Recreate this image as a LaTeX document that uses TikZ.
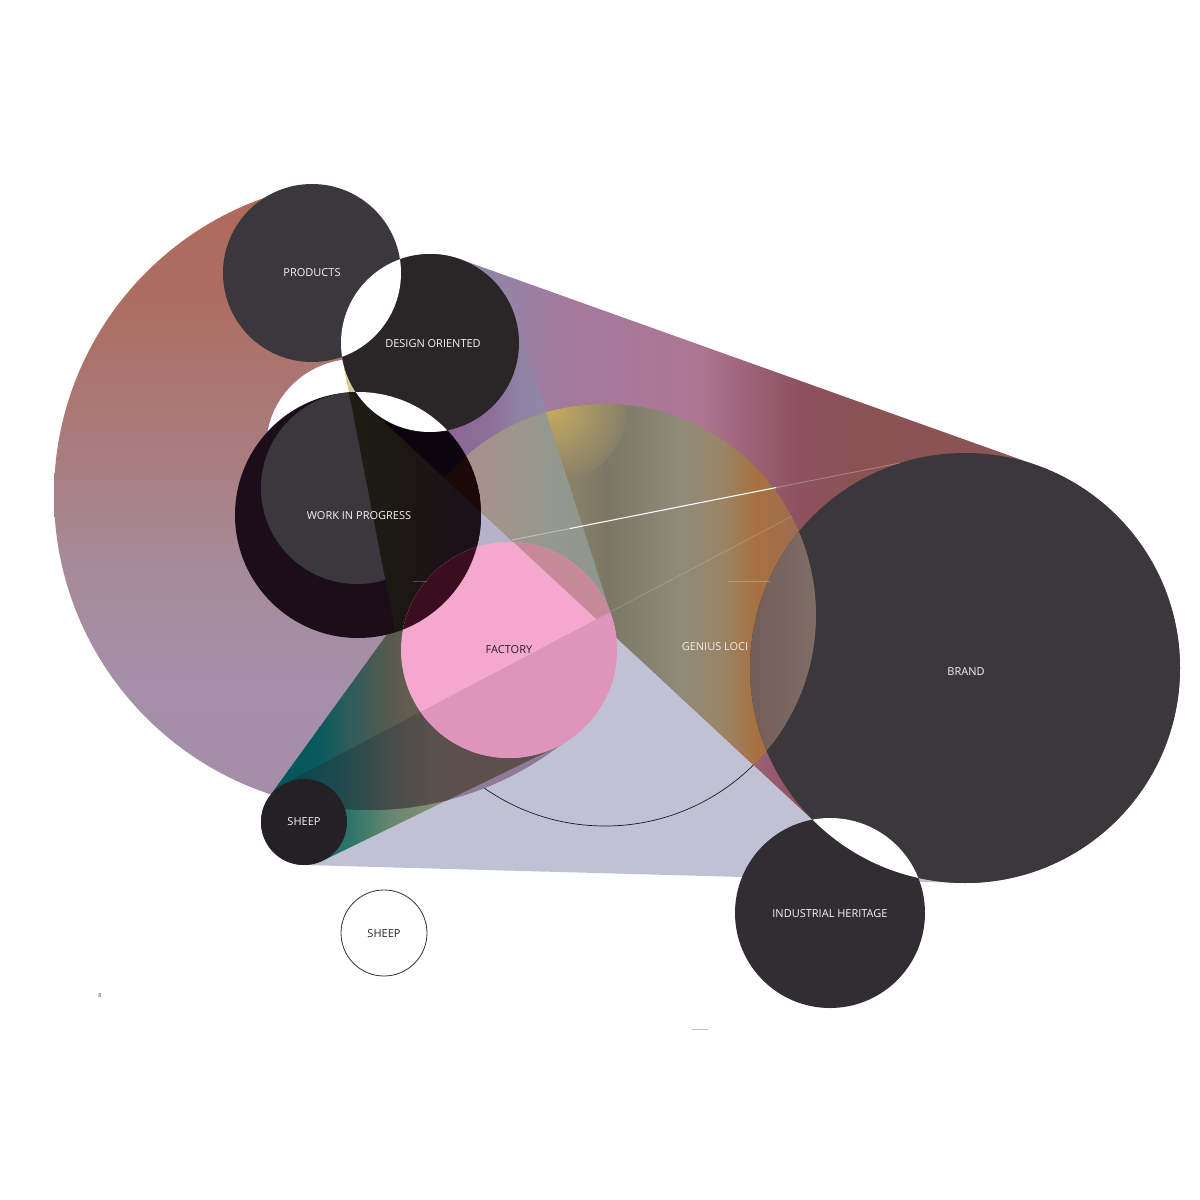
\documentclass[tikz,border=0pt]{standalone}
\usepackage{fontspec}
\setmainfont{Open Sans}
\usetikzlibrary{calc}
\definecolor{mvA}{HTML}{AE695B}
\definecolor{mvB}{HTML}{AD6E62}
\definecolor{mvC}{HTML}{A97C7E}
\definecolor{mvD}{HTML}{A78A98}
\definecolor{mvE}{HTML}{A58FA9}
\definecolor{mvF}{HTML}{A48DA8}
\definecolor{lav}{HTML}{C1C1D6}
\definecolor{pst}{HTML}{8E7B96}
\definecolor{glline}{HTML}{1E1A1C}
\definecolor{dfA}{HTML}{D3CB8E}
\definecolor{dfB}{HTML}{C4C0AA}
\definecolor{dfC}{HTML}{B6B2CA}
\definecolor{dfD}{HTML}{B2B2CC}
\definecolor{cA}{HTML}{0E6464}
\definecolor{cB}{HTML}{2E7468}
\definecolor{cC}{HTML}{668670}
\definecolor{cD}{HTML}{8C9270}
\definecolor{aA}{HTML}{00545A}
\definecolor{aB}{HTML}{0A5A5E}
\definecolor{aC}{HTML}{305C5A}
\definecolor{aD}{HTML}{585A4E}
\definecolor{aE}{HTML}{6C6050}
\definecolor{bA}{HTML}{00484E}
\definecolor{bB}{HTML}{204A4E}
\definecolor{bC}{HTML}{404C4A}
\definecolor{bD}{HTML}{5A504C}
\definecolor{bE}{HTML}{5E4E4C}
\definecolor{dbA}{HTML}{8C88AA}
\definecolor{dbB}{HTML}{A27A9E}
\definecolor{dbC}{HTML}{AE7593}
\definecolor{dbD}{HTML}{8E5260}
\definecolor{dbE}{HTML}{8A5254}
\definecolor{dbF}{HTML}{8C5B58}
\definecolor{dbfA}{HTML}{8B6794}
\definecolor{dbfB}{HTML}{8E6F9A}
\definecolor{dbfC}{HTML}{8F82A4}
\definecolor{dbfD}{HTML}{908AA8}
\definecolor{glA}{HTML}{948C6E}
\definecolor{glB}{HTML}{7C7664}
\definecolor{glC}{HTML}{8F8B79}
\definecolor{glD}{HTML}{9A8466}
\definecolor{glE}{HTML}{A8703F}
\definecolor{glF}{HTML}{A06E4E}
\definecolor{glG}{HTML}{8E725C}
\definecolor{glY}{HTML}{C6AA60}
\definecolor{glO}{HTML}{867F68}
\definecolor{gfA}{HTML}{A88E8C}
\definecolor{gfB}{HTML}{A2948A}
\definecolor{gfC}{HTML}{94988E}
\definecolor{gfD}{HTML}{8E968E}
\definecolor{wdc}{HTML}{1B0E1A}
\definecolor{wgc}{HTML}{3A383C}
\definecolor{wdfA}{HTML}{1E1D12}
\definecolor{wdfB}{HTML}{1C1714}
\definecolor{wdfC}{HTML}{1C1019}
\definecolor{wdb}{HTML}{0E0410}
\definecolor{wdbg}{HTML}{1A0906}
\definecolor{fac}{HTML}{F5A8CE}
\definecolor{fadb}{HTML}{C8889C}
\definecolor{fasb}{HTML}{DE94BB}
\definecolor{fawd}{HTML}{3A0E1E}
\definecolor{prc}{HTML}{3A383C}
\definecolor{dec}{HTML}{2A2628}
\definecolor{brc}{HTML}{3A383B}
\definecolor{ihc}{HTML}{302E32}
\definecolor{shc}{HTML}{242023}
\definecolor{lzA}{HTML}{735C5A}
\definecolor{lzB}{HTML}{7F6E66}
\definecolor{labw}{HTML}{F4F4F4}
\definecolor{labd}{HTML}{2A2024}
\definecolor{glabel}{HTML}{F0EAE4}
\pgfdeclareverticalshading{mauvesh}{100bp}{color(0bp)=(mvF); color(25bp)=(mvF); color(35.5bp)=(mvE); color(44.9bp)=(mvD); color(53.5bp)=(mvC); color(65.2bp)=(mvB); color(75bp)=(mvA); color(100bp)=(mvA)}
\newcommand\mkhull[7]{%
  \pgfmathsetmacro\hxDX{#5-#2}%
  \pgfmathsetmacro\hxDY{#6-#3}%
  \pgfmathsetmacro\hxD{100*veclen(\hxDX/100,\hxDY/100)}%
  \pgfmathsetmacro\hxPhi{atan2(\hxDY,\hxDX)}%
  \pgfmathsetmacro\hxAl{acos((#4-#7)/\hxD)}%
  \pgfmathsetmacro\hxA{\hxPhi+\hxAl}%
  \pgfmathsetmacro\hxB{\hxPhi-\hxAl}%
  \pgfmathsetmacro\hxC{\hxPhi+\hxAl-360}%
  \expandafter\xdef\csname #1\endcsname{($(#2,#3)+(\hxA:#4)$) -- ($(#5,#6)+(\hxA:#7)$) arc[start angle=\hxA,end angle=\hxB,radius=#7] -- ($(#2,#3)+(\hxB:#4)$) arc[start angle=\hxB,end angle=\hxC,radius=#4] -- cycle}%
}
\newcommand\hgr[6]{\shade[left color=#2,right color=#4] (#1-0.5,#5) rectangle (#3+0.5,#6);}
\def\cPR{(312,273) circle[radius=89]}
\def\cDE{(430,343) circle[radius=89]}
\def\cWD{(358,515) circle[radius=123]}
\def\cWG{(357,488) circle[radius=96]}
\def\cFA{(509,650) circle[radius=108]}
\def\cGL{(605,615) circle[radius=211]}
\def\cBR{(965,668) circle[radius=215]}
\def\cSH{(304,822) circle[radius=43]}
\def\cSS{(384,933) circle[radius=43]}
\def\cIH{(830,913) circle[radius=95]}
\def\cBIG{(369,495) circle[radius=315]}
\def\cX{(355,448) circle[radius=89]}
\begin{document}
\begin{tikzpicture}[x=1pt,y=-1pt,
  lbl/.style={font=\fontsize{11}{13}\selectfont,text=labw,inner sep=0pt},
  lbldark/.style={lbl,text=labd}]
\useasboundingbox (0,0) rectangle (1200,1200);
\fill[white] (0,0) rectangle (1200,1200);
\mkhull{hDB}{430}{343}{89}{965}{668}{215}
\mkhull{hDF}{430}{343}{89}{509}{650}{108}
\mkhull{hSB}{304}{822}{43}{965}{668}{215}
\mkhull{hSF}{304}{822}{43}{509}{650}{108}
% big mauve disk
\begin{scope}
\clip \cBIG;
\shade[shading=mauvesh] (40,175) rectangle (700,815);
\end{scope}
\fill[white] \cX;
\fill[white] (312,150) -- (900,150) -- (900,560) -- (470,560) -- (430,380) -- (345,352) -- (312,273) -- cycle;
% sheep-brand pipe
\fill[lav] \hSB;
\draw[glline,line width=0.7pt] \cGL;
\begin{scope}\clip \hSB; \clip (0,0) rectangle (572,1200); \fill[pst] \cBIG; \end{scope}
% design-factory pipe
\begin{scope}\clip \hDF;
\hgr{330}{dfA}{345}{dfA}{300}{690}
\hgr{345}{dfA}{400}{dfB}{300}{690}
\hgr{400}{dfB}{480}{dfC}{300}{690}
\hgr{480}{dfC}{625}{dfD}{300}{690}
\end{scope}
% sheep-factory pipe
\begin{scope}\clip \hSF; \clip \hSB;
\hgr{255}{cA}{300}{cA}{570}{880}
\hgr{300}{cA}{350}{cB}{570}{880}
\hgr{350}{cB}{390}{cC}{570}{880}
\hgr{390}{cC}{440}{cD}{570}{880}
\hgr{440}{cD}{570}{cD}{570}{880}
\end{scope}
\begin{scope}\clip \hSF; \clip \cBIG;
\hgr{255}{aA}{270}{aA}{570}{880}
\hgr{270}{aA}{320}{aB}{570}{880}
\hgr{320}{aB}{350}{aC}{570}{880}
\hgr{350}{aC}{390}{aD}{570}{880}
\hgr{390}{aD}{430}{aE}{570}{880}
\hgr{430}{aE}{570}{aE}{570}{880}
\end{scope}
\begin{scope}\clip \hSF; \clip \cBIG; \clip \hSB;
\hgr{255}{bA}{285}{bA}{570}{880}
\hgr{285}{bA}{340}{bB}{570}{880}
\hgr{340}{bB}{380}{bC}{570}{880}
\hgr{380}{bC}{430}{bD}{570}{880}
\hgr{430}{bD}{570}{bE}{570}{880}
\end{scope}
% design-brand pipe
\begin{scope}\clip \hDB;
\hgr{440}{dbA}{470}{dbA}{240}{900}
\hgr{470}{dbA}{560}{dbB}{240}{900}
\hgr{560}{dbB}{700}{dbC}{240}{900}
\hgr{700}{dbC}{795}{dbD}{240}{900}
\hgr{795}{dbD}{860}{dbE}{240}{900}
\hgr{860}{dbE}{1190}{dbF}{240}{900}
\end{scope}
\begin{scope}\clip \hDB; \clip \hDF;
\hgr{330}{dbfA}{450}{dbfA}{250}{690}
\hgr{450}{dbfA}{490}{dbfB}{250}{690}
\hgr{490}{dbfB}{520}{dbfC}{250}{690}
\hgr{520}{dbfC}{550}{dbfD}{250}{690}
\hgr{550}{dbfD}{625}{dbfD}{250}{690}
\end{scope}
% genius loci inside the design-brand pipe
\begin{scope}\clip \hDB; \clip \cGL;
\hgr{390}{glA}{545}{glA}{400}{830}
\hgr{545}{glA}{605}{glB}{400}{830}
\hgr{605}{glB}{680}{glC}{400}{830}
\hgr{680}{glC}{722}{glD}{400}{830}
\hgr{722}{glD}{757}{glE}{400}{830}
\hgr{757}{glE}{790}{glF}{400}{830}
\hgr{790}{glF}{820}{glG}{400}{830}
\shade[inner color=glY,outer color=glO] (552,408) circle[radius=75];
\end{scope}
\begin{scope}\clip \hDB; \clip \cGL; \clip \hDF;
\hgr{390}{gfA}{445}{gfA}{400}{830}
\hgr{445}{gfA}{500}{gfB}{400}{830}
\hgr{500}{gfB}{550}{gfC}{400}{830}
\hgr{550}{gfC}{620}{gfD}{400}{830}
\end{scope}
\begin{scope}\clip \cGL; \clip \hDB;
\draw[white,opacity=0.18,line width=0.8pt] (600,617.4) -- (800,511.9);
\end{scope}
% work in progress
\fill[wdc] \cWD;
\fill[wgc] \cWG;
\begin{scope}\clip \cWD; \clip \hDF;
\hgr{230}{wdfA}{350}{wdfA}{380}{650}
\hgr{350}{wdfA}{400}{wdfB}{380}{650}
\hgr{400}{wdfB}{465}{wdfC}{380}{650}
\hgr{465}{wdfC}{490}{wdfC}{380}{650}
\end{scope}
\begin{scope}\clip \cWD; \clip \hDB; \fill[wdb] \cWD; \end{scope}
\begin{scope}\clip \cWD; \clip \hDB; \clip \cGL; \fill[wdbg] \cWD; \end{scope}
% factory
\fill[fac] \cFA;
\begin{scope}\clip \cFA; \fill[fadb] \hDB; \end{scope}
\begin{scope}\clip \cFA; \fill[fasb] \hSB; \end{scope}
\begin{scope}\clip \cFA; \fill[fawd] \cWD; \end{scope}
% products and design oriented
\fill[prc] \cPR;
\fill[dec] \cDE;
\begin{scope}\clip \cPR; \fill[white] \cDE; \end{scope}
\begin{scope}\clip \cDE; \fill[white] \cWD; \end{scope}
% brand and industrial heritage
\fill[brc] \cBR;
\begin{scope}\clip \cBR; \clip \cGL;
\hgr{745}{lzA}{820}{lzB}{520}{770}
\end{scope}
\fill[ihc] \cIH;
\begin{scope}\clip \cBR; \fill[white] \cIH; \end{scope}
% sheep
\fill[shc] \cSH;
\draw[black!80,line width=0.8pt,fill=white] \cSS;
% thin lines
\coordinate (wl0) at (512,540);
\coordinate (wl1) at (570,528.5);
\coordinate (wl2) at (776,487.6);
\coordinate (wl3) at (900,463);
\draw[white!80!blue!60!white,opacity=0.55,line width=0.9pt] (wl0) -- (wl1);
\draw[white,opacity=0.95,line width=1.1pt] (wl1) -- (wl2);
\draw[white,opacity=0.3,line width=0.8pt] (wl2) -- (wl3);
\coordinate (fl0) at (728,581); \coordinate (fl1) at (770,581);
\draw[glE!60!white,opacity=0.6,line width=0.5pt] (fl0) -- (fl1);
\coordinate (fl2) at (413,581); \coordinate (fl3) at (427,581);
\draw[gray,opacity=0.5,line width=0.5pt] (fl2) -- (fl3);
\coordinate (gl0) at (692,1029); \coordinate (gl1) at (708,1029);
\draw[black!25,line width=1pt] (gl0) -- (gl1);
% labels
\node[lbl] (products) at (312,273) {PRODUCTS};
\node[lbl] (design) at (433,344) {DESIGN ORIENTED};
\node[lbl] (wip) at (359,516) {WORK IN PROGRESS};
\node[lbldark] (factory) at (509,650) {FACTORY};
\node[lbl,text=glabel] (genius) at (715,647) {GENIUS LOCI};
\node[lbl] (brand) at (966,672) {BRAND};
\node[lbl] (sheepa) at (304,822) {SHEEP};
\node[lbldark,text=black!85] (sheepb) at (384,934) {SHEEP};
\node[lbl] (heritage) at (830,914) {INDUSTRIAL HERITAGE};
\node[font=\fontsize{5.5}{6}\selectfont,text=black!70,inner sep=0pt] (pagenum) at (100,996) {8};
\end{tikzpicture}
\end{document}
